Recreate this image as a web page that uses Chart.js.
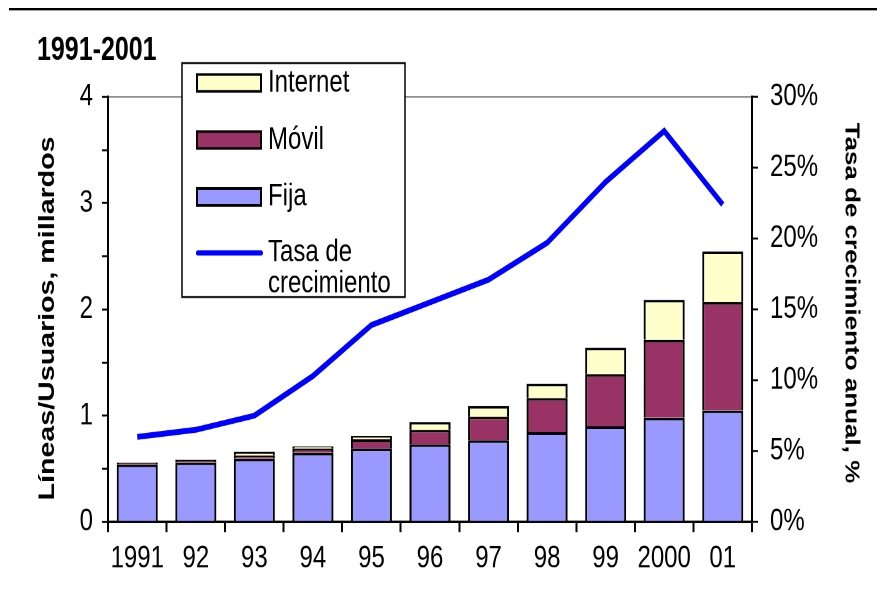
<!doctype html>
<html lang="es">
  <head>
    <meta charset="utf-8">
    <title>Líneas/Usuarios 1991-2001</title>
    <script src="https://cdn.jsdelivr.net/npm/chart.js@4.4.0/dist/chart.umd.min.js"></script>
  </head>

  <style>
    html, body {
      margin: 0;
      background-color: #ffffff;
    }
    #page {
      width: 877px;
      height: 607px;
      position: relative;
    }
    /* the original picture is stretched vertically, so draw at 467px high and stretch */
    #wrap {
      position: absolute;
      left: 0;
      top: 0;
      width: 877px;
      height: 467px;
      transform: scaleY(1.2998);
      transform-origin: 0 0;
    }
  </style>

  <body>
    <div id="page">
      <div id="wrap">
        <canvas id="chart" width="877" height="467"></canvas>
      </div>
    </div>

  <script>
    // data
    const years = ['1991', '92', '93', '94', '95', '96', '97', '98', '99', '2000', '01'];
    const fija = [0.54, 0.56, 0.595, 0.65, 0.69, 0.73, 0.77, 0.845, 0.90, 0.98, 1.05];
    const movil = [0.016, 0.022, 0.03, 0.04, 0.087, 0.135, 0.22, 0.32, 0.49, 0.735, 1.02];
    const internet = [0.004, 0.005, 0.035, 0.02, 0.03, 0.075, 0.10, 0.135, 0.25, 0.375, 0.475];
    const tasa = [6.0, 6.5, 7.5, 10.3, 13.9, 15.5, 17.1, 19.7, 24.0, 27.6, 22.4];

    const leftTicks = [0, 1, 2, 3, 4];
    const rightTicks = [0, 5, 10, 15, 20, 25, 30];

    const FONT = '"Liberation Sans", Arial, sans-serif';
    Chart.defaults.font.family = FONT;
    Chart.defaults.color = '#000';

    // titles, top rule and the boxed legend
    const decorations = {
      id: 'decorations',
      afterDraw(chart) {
        const ctx = chart.ctx;
        ctx.save();

        // rule at the very top
        ctx.fillStyle = '#000';
        ctx.fillRect(9, 6, 868, 2);

        ctx.fillStyle = '#000';
        ctx.textBaseline = 'middle';
        ctx.font = 'bold 25px ' + FONT;
        ctx.textAlign = 'left';
        ctx.fillText('1991-2001', 37, 39);

        ctx.font = 'bold 22px ' + FONT;
        ctx.textAlign = 'center';
        ctx.save();
        ctx.translate(48, 245);
        ctx.rotate(-Math.PI / 2);
        ctx.fillText('Líneas/Usuarios, millardos', 0, 0);
        ctx.restore();

        ctx.font = 'bold 20px ' + FONT;
        ctx.save();
        ctx.translate(851, 233);
        ctx.rotate(Math.PI / 2);
        ctx.fillText('Tasa de crecimiento anual, %', 0, 0);
        ctx.restore();

        // legend box
        ctx.fillStyle = '#fff';
        ctx.fillRect(182, 48.5, 223, 180);
        ctx.strokeStyle = '#000';
        ctx.lineWidth = 1.5;
        ctx.strokeRect(182, 48.5, 223, 180);

        const ds = chart.data.datasets;
        const items = [ds[2], ds[1], ds[0]];
        const ys = [63.8, 107.7, 151.5];
        ctx.font = '24px ' + FONT;
        ctx.textAlign = 'left';
        items.forEach(function(d, i) {
          ctx.fillStyle = d.backgroundColor;
          ctx.fillRect(197, ys[i] - 6.5, 64, 13);
          ctx.strokeStyle = '#000';
          ctx.lineWidth = 2;
          ctx.strokeRect(197, ys[i] - 6.5, 64, 13);
          ctx.fillStyle = '#000';
          ctx.fillText(d.label, 268, ys[i]);
        });

        const line = ds[3];
        ctx.strokeStyle = line.borderColor;
        ctx.lineWidth = 4;
        ctx.lineCap = 'round';
        ctx.beginPath();
        ctx.moveTo(198, 194.6);
        ctx.lineTo(261, 194.6);
        ctx.stroke();
        ctx.fillStyle = '#000';
        line.label.split('\n').forEach(function(t, i) {
          ctx.fillText(t, 268, 194.6 + i * 24);
        });

        ctx.restore();
      }
    };

    const data = {
      labels: years,
      datasets: [
        {
          label: 'Fija',
          data: fija,
          backgroundColor: '#9999FF',
          borderColor: '#000',
          borderWidth: 2,
          yAxisID: 'y',
          order: 2
        },
        {
          label: 'Móvil',
          data: movil,
          backgroundColor: '#993366',
          borderColor: '#000',
          borderWidth: 2,
          yAxisID: 'y',
          order: 2
        },
        {
          label: 'Internet',
          data: internet,
          backgroundColor: '#FFFFCC',
          borderColor: '#000',
          borderWidth: 2,
          yAxisID: 'y',
          order: 2
        },
        {
          type: 'line',
          label: 'Tasa de\ncrecimiento',
          data: tasa,
          borderColor: '#0000FF',
          backgroundColor: '#0000FF',
          borderWidth: 4.5,
          pointRadius: 0,
          tension: 0,
          yAxisID: 'y1',
          order: 1
        }
      ]
    };

    const config = {
      type: 'bar',
      data: data,
      options: {
        responsive: false,
        animation: false,
        devicePixelRatio: 2,
        layout: {
          padding: { top: 74.6, left: 0, right: 0, bottom: 0 }
        },
        datasets: {
          bar: { barPercentage: 0.7, categoryPercentage: 1 }
        },
        plugins: {
          legend: { display: false },
          title: { display: false },
          tooltip: { enabled: false }
        },
        scales: {
          x: {
            stacked: true,
            afterFit: function(s) { s.height = 65.5; },
            border: { color: '#000', width: 2 },
            grid: {
              offset: true,
              drawOnChartArea: false,
              tickLength: 8,
              tickColor: '#000',
              tickWidth: 2
            },
            ticks: {
              font: { size: 24 },
              padding: 6,
              maxRotation: 0,
              autoSkip: false
            }
          },
          y: {
            stacked: true,
            position: 'left',
            min: 0,
            max: 4,
            afterFit: function(s) { s.width = 108; },
            border: { color: '#000', width: 2 },
            grid: {
              color: function(c) { return c.tick && c.tick.value === 4 ? '#8c8c8c' : 'rgba(0,0,0,0)'; },
              lineWidth: 1.2,
              tickColor: '#000',
              tickWidth: 1.5,
              tickLength: 6
            },
            ticks: {
              stepSize: 0.5,
              font: { size: 24 },
              padding: 9,
              callback: function(v) { return leftTicks.includes(v) ? String(v) : ''; }
            }
          },
          y1: {
            position: 'right',
            min: 0,
            max: 30,
            afterFit: function(s) { s.width = 125; },
            border: { color: '#000', width: 2 },
            grid: {
              drawOnChartArea: false,
              tickColor: '#000',
              tickWidth: 1.5,
              tickLength: 6
            },
            ticks: {
              stepSize: 5,
              font: { size: 24 },
              padding: 12,
              callback: function(v) { return rightTicks.includes(v) ? v + '%' : ''; }
            }
          }
        }
      },
      plugins: [decorations]
    };

    new Chart(document.getElementById('chart'), config);
  </script>
  </body>
</html>
